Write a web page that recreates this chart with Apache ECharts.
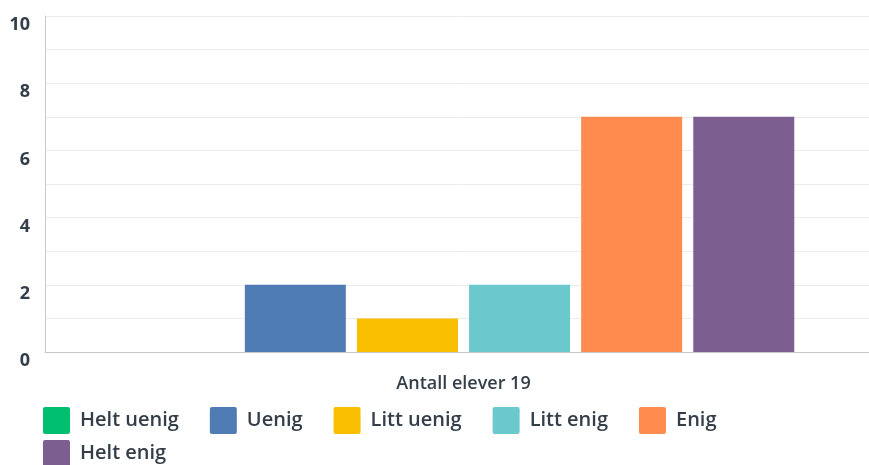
<!DOCTYPE html>
<html>
<head>
<meta charset="utf-8">
<script src="https://cdn.jsdelivr.net/npm/echarts@6/dist/echarts.min.js"></script>
<style>
  html, body { margin: 0; padding: 0; background: #fff; }
  #chart { width: 869px; height: 465px; }
</style>
</head>
<body>
<div id="chart"></div>
<script>
// Answer categories and how many pupils chose each one
const categories = ['Antall elever 19'];
const answers = ['Helt uenig', 'Uenig', 'Litt uenig', 'Litt enig', 'Enig', 'Helt enig'];
const counts = [0, 2, 1, 2, 7, 7];
const colors = ['#00bf6f', '#507cb6', '#f9be00', '#6bc8cd', '#ff8b4f', '#7d5e90'];
const yTicks = [0, 2, 4, 6, 8, 10];

const FONT = '"Open Sans", "Noto Sans", sans-serif';
const INK = '#333e48';

// small-radius rounded square used as legend swatch
const SWATCH = 'path://M2,0H24A2,2 0 0 1 26,2V24A2,2 0 0 1 24,26H2A2,2 0 0 1 0,24V2A2,2 0 0 1 2,0Z';

function legendBlock(names, top) {
  return {
    left: 43,
    top,
    padding: 0,
    orient: 'horizontal',
    itemWidth: 27,
    itemHeight: 27,
    itemGap: 31,
    icon: SWATCH,
    formatter: n => '{t|' + n + '}',
    textStyle: {
      fontFamily: FONT,
      fontSize: 20,
      fontWeight: 600,
      color: INK,
      rich: {
        t: {
          fontFamily: FONT,
          fontSize: 20,
          fontWeight: 600,
          color: INK,
          padding: [0, 0, 0, 5]
        }
      }
    },
    data: names
  };
}

const chart = echarts.init(document.getElementById('chart'), null, { renderer: 'canvas' });

chart.setOption({
  animation: false,
  grid: {
    left: 45, width: 837, top: 16, bottom: 113,
    containLabel: false,
    outerBoundsMode: 'none'
  },
  legend: [
    legendBlock(answers.slice(0, 5), 407),
    legendBlock(answers.slice(5), 440)
  ],
  xAxis: {
    type: 'category',
    data: categories,
    axisLine: { show: true, lineStyle: { color: '#c8c8c8', width: 1 } },
    axisTick: { show: false },
    axisLabel: {
      margin: 23,
      fontFamily: FONT,
      fontSize: 18,
      fontWeight: 600,
      color: INK
    }
  },
  yAxis: {
    type: 'value',
    min: 0,
    max: 10,
    interval: 1,
    axisLine: { show: true, lineStyle: { color: '#c8c8c8', width: 1 } },
    axisTick: { show: false },
    splitLine: { lineStyle: { color: '#ececec', width: 1 } },
    axisLabel: {
      margin: 15,
      verticalAlign: 'top',
      fontFamily: FONT,
      fontSize: 18,
      fontWeight: 700,
      color: INK,
      formatter: v => (yTicks.includes(v) ? String(v) : '')
    }
  },
  series: answers.map((name, i) => ({
    name,
    type: 'bar',
    data: [counts[i]],
    barWidth: 101,
    barGap: '11%',
    itemStyle: { color: colors[i] }
  }))
});
</script>
</body>
</html>
